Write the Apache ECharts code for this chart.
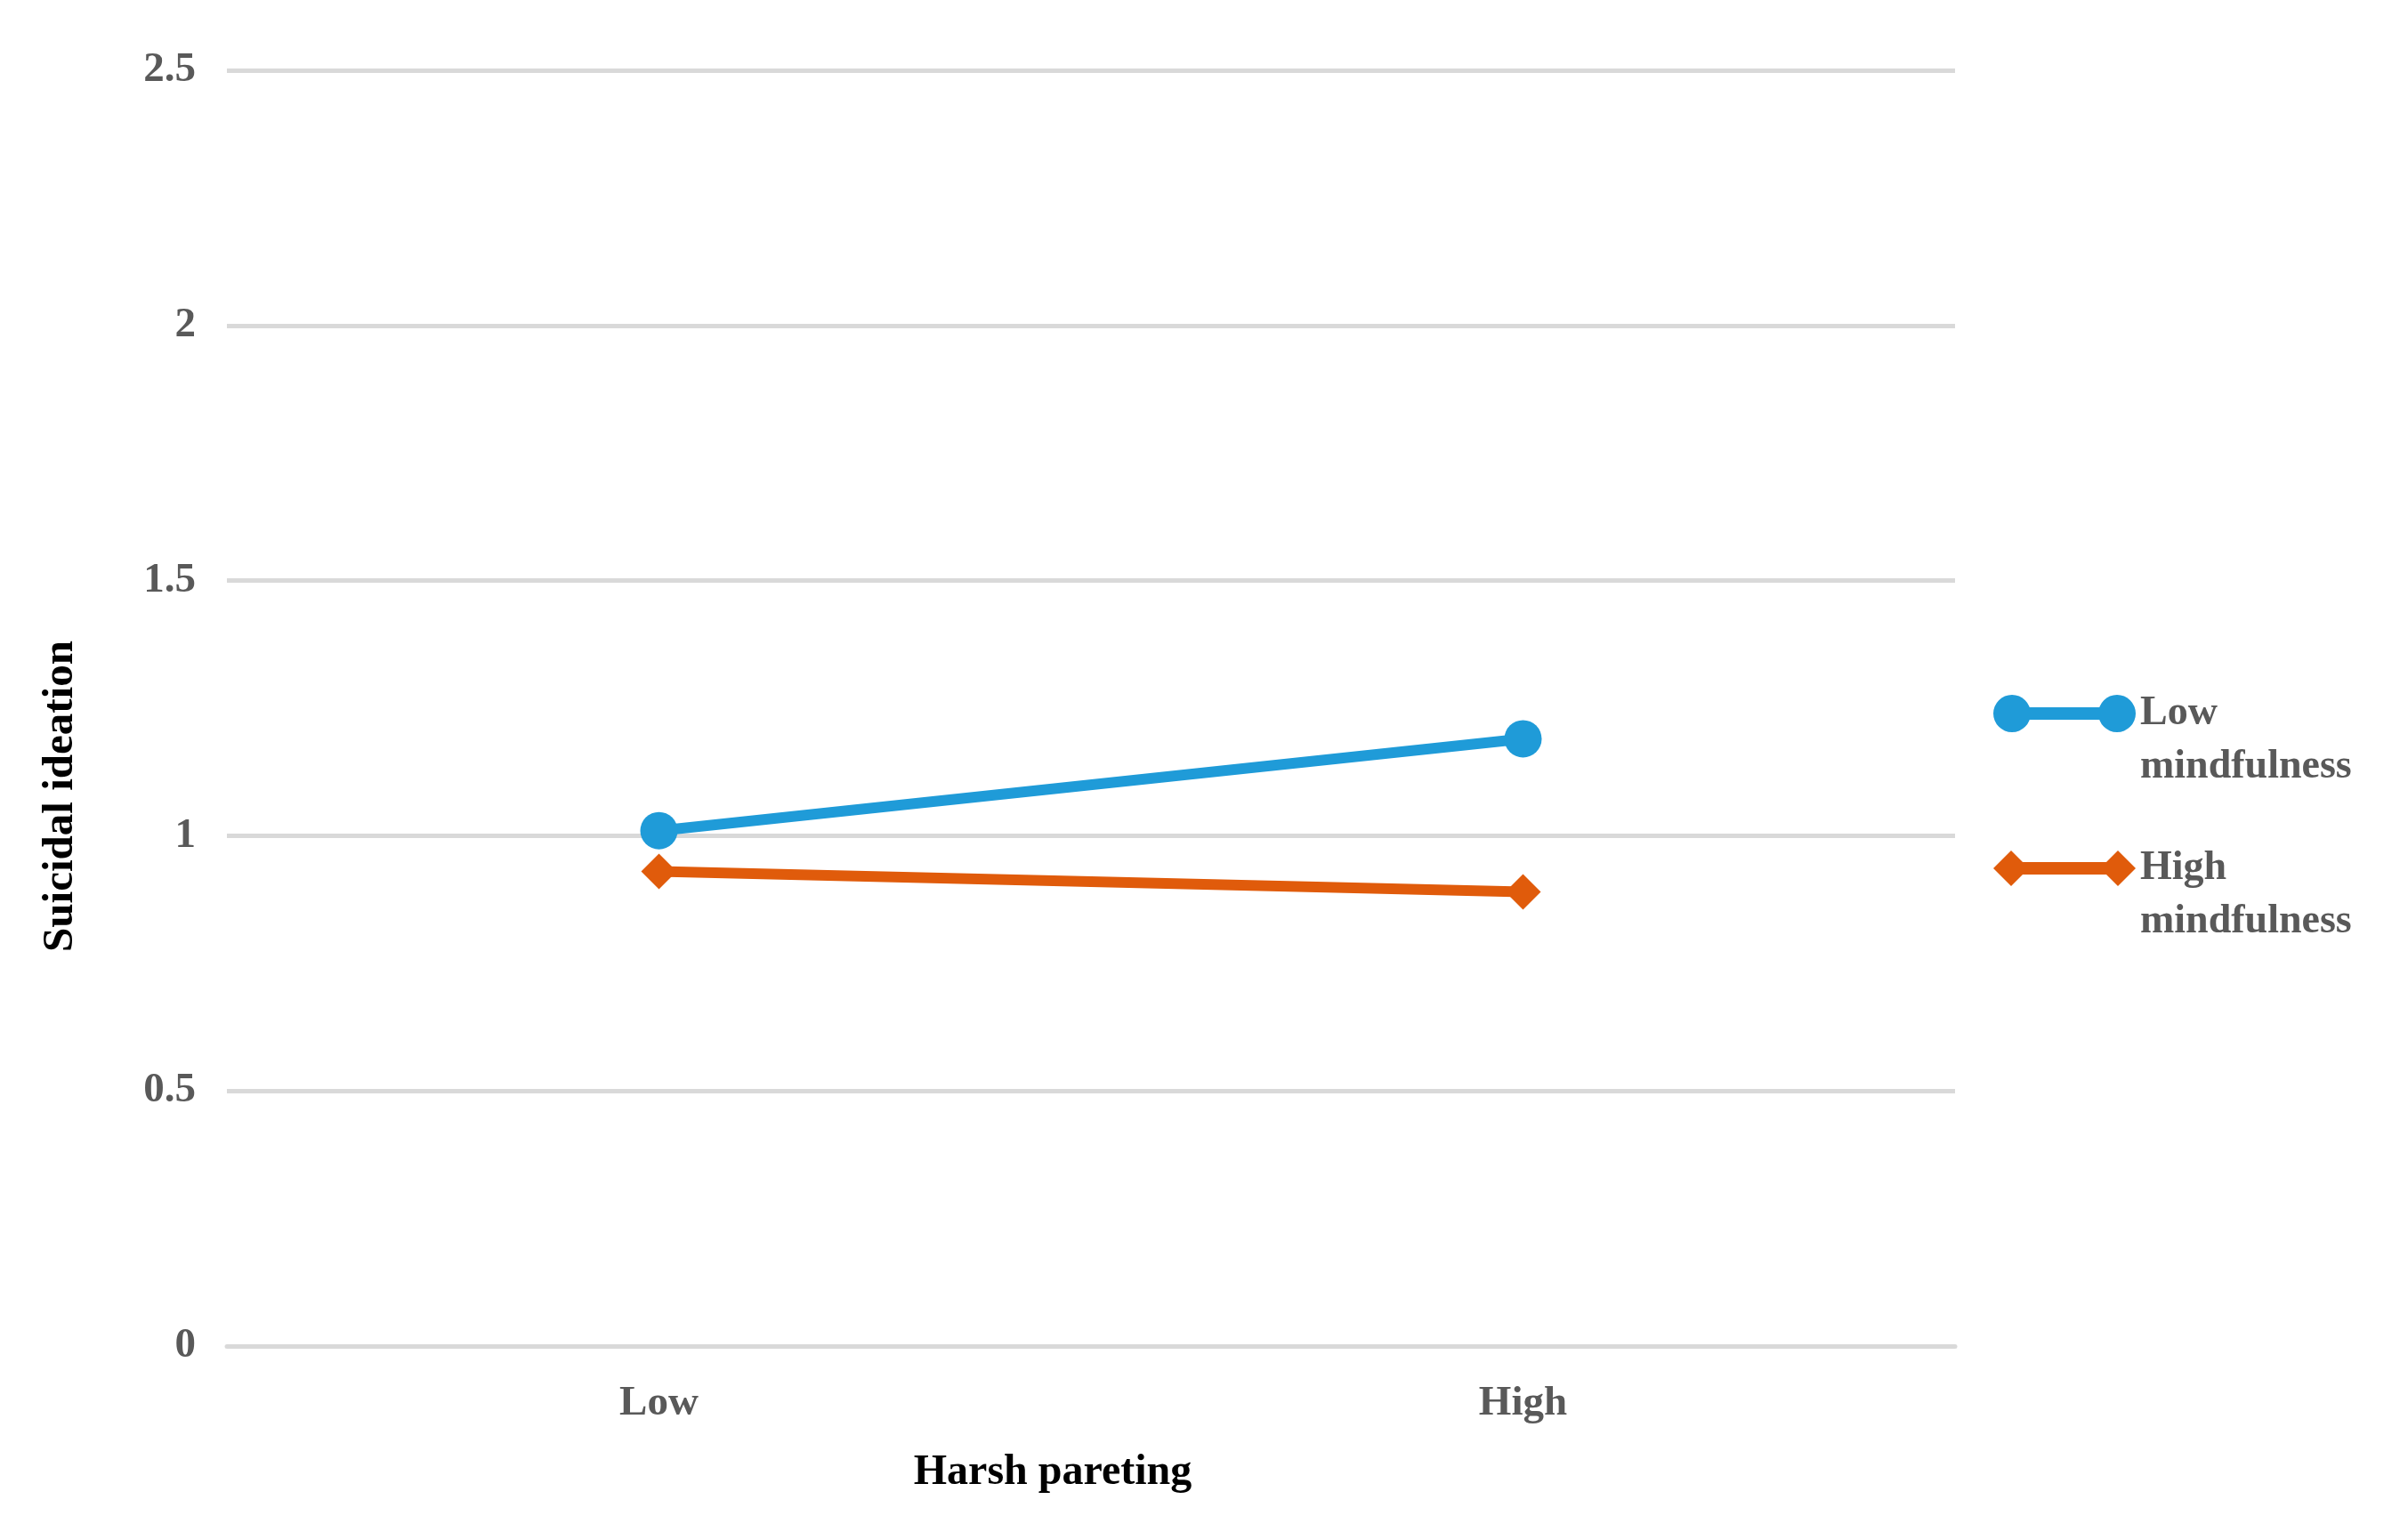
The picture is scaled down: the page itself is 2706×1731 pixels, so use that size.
<!DOCTYPE html>
<html>
<head>
<meta charset="utf-8">
<title>Suicidal ideation</title>
<script src="https://cdn.jsdelivr.net/npm/echarts@6/dist/echarts.min.js"></script>
<style>
  html, body { margin: 0; padding: 0; background: #fff; }
  #main { width: 2706px; height: 1731px; }
</style>
</head>
<body>
<div id="main"></div>
<script>
// data
var categories = ['Low', 'High'];
var lowMindfulness = [1.01, 1.19];
var highMindfulness = [0.93, 0.89];
var seriesNames = ['Low mindfulness', 'High mindfulness'];
var yMin = 0, yMax = 2.5, yStep = 0.5;

var blue = '#1f9bd8';
var orange = '#e05b0b';
var serif = '"Liberation Serif", "Times New Roman", serif';

// legend icons: marker - line - marker (drawn in a 160x42 box)
var circleIcon = 'path://M0,21 A21,21 0 1,1 42,21 A21,21 0 1,1 0,21 Z M21,14 L139,14 L139,28 L21,28 Z M118,21 A21,21 0 1,1 160,21 A21,21 0 1,1 118,21 Z';
var diamondIcon = 'path://M0,21 L20,1 L40,21 L20,41 Z M20,14 L140,14 L140,28 L20,28 Z M120,21 L140,1 L160,21 L140,41 Z';

var myChart = echarts.init(document.getElementById('main'));

var option = {
  backgroundColor: '#ffffff',
  animation: false,
  grid: {
    left: 255,
    right: 509,
    top: 79,
    bottom: 218
  },
  legend: {
    orient: 'vertical',
    left: 2240,
    top: 712,
    padding: 0,
    itemWidth: 160,
    itemHeight: 42,
    itemGap: -6,
    itemStyle: { borderWidth: 0 },
    formatter: function (name) {
      // empty first line so "Low"/"High" sits level with the icon
      return '\n' + name.replace(' ', '\n');
    },
    textStyle: {
      fontFamily: serif,
      fontWeight: 'bold',
      fontSize: 46,
      lineHeight: 60,
      color: '#595959'
    },
    data: [
      { name: seriesNames[0], icon: circleIcon },
      { name: seriesNames[1], icon: diamondIcon }
    ]
  },
  xAxis: {
    type: 'category',
    data: categories,
    boundaryGap: true,
    axisLine: { show: true, lineStyle: { color: '#d9d9d9', width: 5 } },
    axisTick: { show: false },
    axisLabel: {
      margin: 41,
      fontFamily: serif,
      fontWeight: 'bold',
      fontSize: 47,
      color: '#595959'
    }
  },
  yAxis: {
    type: 'value',
    min: yMin,
    max: yMax,
    interval: yStep,
    axisLine: { show: false },
    axisTick: { show: false },
    splitLine: { lineStyle: { color: '#d9d9d9', width: 5 } },
    axisLabel: {
      margin: 35,
      fontFamily: serif,
      fontWeight: 'bold',
      fontSize: 47,
      color: '#595959'
    }
  },
  // axis titles, placed like in the original (not centred on the plot)
  graphic: [
    {
      type: 'text',
      x: 68,
      y: 895,
      rotation: Math.PI / 2,
      style: {
        text: 'Suicidal ideation',
        fontFamily: serif,
        fontWeight: 'bold',
        fontSize: 49,
        fill: '#000000',
        align: 'center',
        verticalAlign: 'middle'
      }
    },
    {
      type: 'text',
      x: 1183,
      y: 1656,
      style: {
        text: 'Harsh pareting',
        fontFamily: serif,
        fontWeight: 'bold',
        fontSize: 48,
        fill: '#000000',
        align: 'center',
        verticalAlign: 'middle'
      }
    }
  ],
  series: [
    {
      name: seriesNames[0],
      type: 'line',
      data: lowMindfulness,
      symbol: 'circle',
      symbolSize: 42,
      color: blue,
      itemStyle: { color: blue, borderWidth: 0 },
      lineStyle: { color: blue, width: 12 }
    },
    {
      name: seriesNames[1],
      type: 'line',
      data: highMindfulness,
      symbol: 'diamond',
      symbolSize: 40,
      color: orange,
      itemStyle: { color: orange, borderWidth: 0 },
      lineStyle: { color: orange, width: 12 }
    }
  ]
};

myChart.setOption(option);
window.addEventListener('resize', function () {
  myChart.resize();
});
</script>
</body>
</html>
